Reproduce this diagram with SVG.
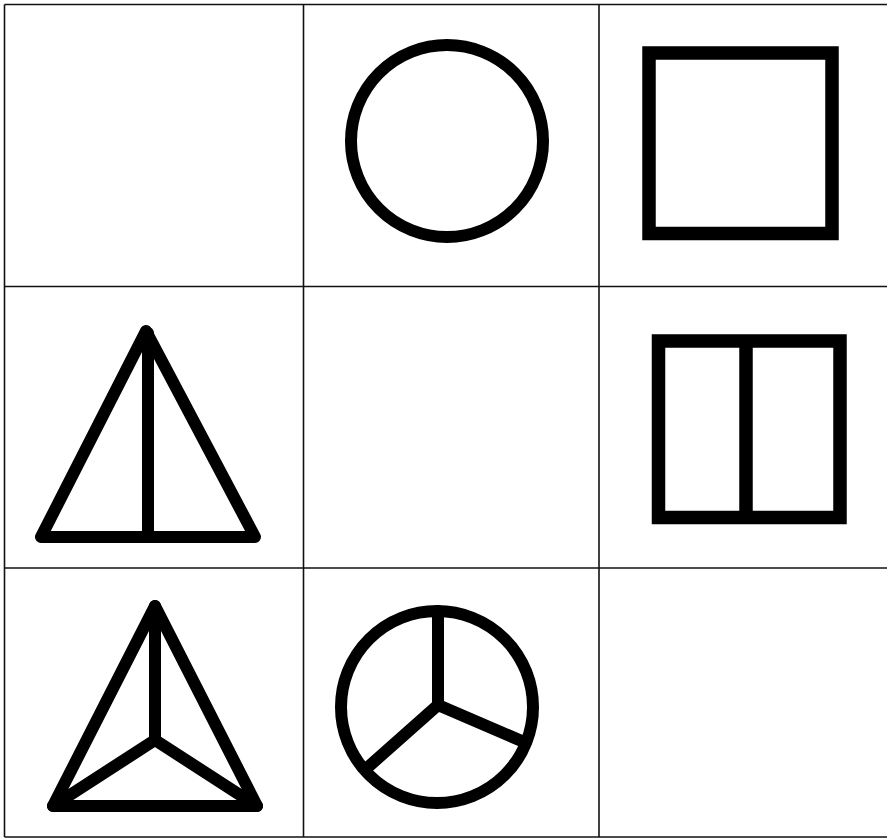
<svg xmlns="http://www.w3.org/2000/svg" width="887" height="839" viewBox="0 0 887 839">
<style>
.grid{stroke:#111;stroke-width:1.6;fill:none}
.shape{stroke:#000;stroke-width:12;fill:none;stroke-linejoin:round;stroke-linecap:round}
.sq{stroke:#000;stroke-width:13.5;fill:none;stroke-linejoin:miter}
</style>
<rect width="887" height="839" fill="#fff"/>
<g id="grid" class="grid">
<line x1="4.5" y1="4.5" x2="887" y2="4.5"/>
<line x1="4.5" y1="4.5" x2="4.5" y2="837"/>
<line x1="4.5" y1="837" x2="887" y2="837"/>
<line x1="303.5" y1="4.5" x2="303.5" y2="837"/>
<line x1="599" y1="4.5" x2="599" y2="837"/>
<line x1="4.5" y1="286.5" x2="887" y2="286.5"/>
<line x1="4.5" y1="568" x2="887" y2="568"/>
</g>
<g id="circle">
<circle class="shape" cx="447" cy="141" r="96"/>
</g>
<g id="square">
<rect class="sq" x="649" y="53" width="183" height="180.5"/>
</g>
<g id="triangle-split">
<polygon class="shape" points="146,331 41,537 255,537"/>
<line class="shape" x1="148" y1="333" x2="148" y2="537"/>
</g>
<g id="rect-split">
<rect class="sq" x="658.5" y="341" width="181.5" height="176.5"/>
<line class="sq" x1="746" y1="341" x2="746" y2="517.5"/>
</g>
<g id="triangle-three">
<polygon class="shape" points="155,606 53,806 257,806"/>
<polyline class="shape" points="155,606 155,740"/>
<polyline class="shape" points="53,806 155,740 257,806"/>
</g>
<g id="circle-three">
<circle class="shape" cx="437" cy="707" r="96"/>
<polyline class="shape" points="438,611 438,705"/>
<polyline class="shape" points="367,768 438,705 524,742"/>
</g>
</svg>
